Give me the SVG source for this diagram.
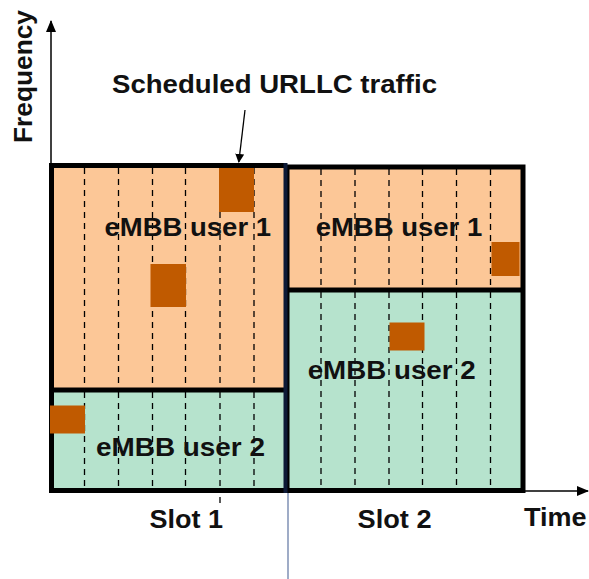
<svg xmlns="http://www.w3.org/2000/svg" width="589" height="579" viewBox="0 0 589 579">
<defs>
<style>
.t{font-family:"Liberation Sans",Arial,sans-serif;font-weight:bold;font-size:26px;fill:#111}
.peach{fill:#FCC797}
.green{fill:#B6E3CD}
.bd{fill:none;stroke:#000;stroke-width:5}
.dash{stroke:#000;stroke-width:1.3;stroke-dasharray:6 5;fill:none}
.sq{fill:#C05A00}
.ax{stroke:#000;stroke-width:1.5;fill:none}
</style>
<marker id="ah" viewBox="0 0 12 10" refX="11" refY="5" markerWidth="12" markerHeight="10" markerUnits="userSpaceOnUse" orient="auto">
<path d="M0,0 L12,5 L0,10 z" fill="#000"/>
</marker>
<marker id="ahs" viewBox="0 0 10 10" refX="9" refY="5" markerWidth="9" markerHeight="9" markerUnits="userSpaceOnUse" orient="auto">
<path d="M0,0 L10,5 L0,10 z" fill="#000"/>
</marker>
</defs>
<rect width="589" height="579" fill="#fff"/>

<g id="connectors">
<line class="ax" x1="51" y1="491" x2="51" y2="21" marker-end="url(#ah)"/>
<line class="ax" x1="51" y1="491" x2="588" y2="491" marker-end="url(#ah)"/>
<line x1="245" y1="110" x2="238.8" y2="162" stroke="#000" stroke-width="1.3" marker-end="url(#ahs)"/>
<line x1="288" y1="165" x2="288" y2="579" stroke="#7F90B4" stroke-width="1.5"/>
<line x1="220" y1="497" x2="220" y2="503" stroke="#000" stroke-width="1.3"/>
</g>

<g id="slot1-user1">
<rect class="peach" x="51.5" y="165.5" width="234" height="224.5"/>
<line class="dash" x1="84.5" y1="168" x2="84.5" y2="388"/>
<line class="dash" x1="118.5" y1="168" x2="118.5" y2="388"/>
<line class="dash" x1="152.5" y1="168" x2="152.5" y2="388"/>
<line class="dash" x1="185.5" y1="168" x2="185.5" y2="388"/>
<line class="dash" x1="220" y1="168" x2="220" y2="388"/>
<line class="dash" x1="254" y1="168" x2="254" y2="388"/>
<text class="t" x="104.5" y="236" textLength="166.5" lengthAdjust="spacingAndGlyphs">eMBB user 1</text>
</g>

<g id="slot1-user2">
<rect class="green" x="51.5" y="390" width="234" height="100.5"/>
<line class="dash" x1="84.5" y1="392" x2="84.5" y2="488"/>
<line class="dash" x1="118.5" y1="392" x2="118.5" y2="488"/>
<line class="dash" x1="152.5" y1="392" x2="152.5" y2="488"/>
<line class="dash" x1="185.5" y1="392" x2="185.5" y2="488"/>
<line class="dash" x1="220" y1="392" x2="220" y2="488"/>
<line class="dash" x1="254" y1="392" x2="254" y2="488"/>
<text class="t" x="96" y="456" textLength="169" lengthAdjust="spacingAndGlyphs">eMBB user 2</text>
</g>

<g id="slot2-user1">
<rect class="peach" x="287" y="167" width="236" height="123"/>
<line class="dash" x1="321" y1="169" x2="321" y2="288"/>
<line class="dash" x1="355" y1="169" x2="355" y2="288"/>
<line class="dash" x1="389" y1="169" x2="389" y2="288"/>
<line class="dash" x1="422.5" y1="169" x2="422.5" y2="288"/>
<line class="dash" x1="456.5" y1="169" x2="456.5" y2="288"/>
<line class="dash" x1="490.5" y1="169" x2="490.5" y2="288"/>
<text class="t" x="315.7" y="236" textLength="166.5" lengthAdjust="spacingAndGlyphs">eMBB user 1</text>
</g>

<g id="slot2-user2">
<rect class="green" x="287" y="290" width="236" height="200"/>
<line class="dash" x1="321" y1="292" x2="321" y2="488"/>
<line class="dash" x1="355" y1="292" x2="355" y2="488"/>
<line class="dash" x1="389" y1="292" x2="389" y2="488"/>
<line class="dash" x1="422.5" y1="292" x2="422.5" y2="488"/>
<line class="dash" x1="456.5" y1="292" x2="456.5" y2="488"/>
<line class="dash" x1="490.5" y1="292" x2="490.5" y2="488"/>
<text class="t" x="307.7" y="379" textLength="168" lengthAdjust="spacingAndGlyphs">eMBB user 2</text>
</g>

<g id="borders">
<path class="bd" d="M51.5,390 V165.5 H285.5 M51.5,390 V490.5 H285.5"/>
<line class="bd" x1="51.5" y1="390" x2="285.5" y2="390"/>
<rect class="bd" x="287" y="167" width="236" height="323.5"/>
<line class="bd" x1="287" y1="290" x2="523" y2="290"/>
<line x1="285.5" y1="163" x2="285.5" y2="493" stroke="#0D1A36" stroke-width="4"/>
</g>

<g id="urllc-blocks">
<rect class="sq" x="219" y="168" width="35" height="44"/>
<rect class="sq" x="150.5" y="264" width="35.5" height="43"/>
<rect class="sq" x="50" y="405.5" width="35" height="28"/>
<rect class="sq" x="491.5" y="242" width="28" height="34"/>
<rect class="sq" x="389.5" y="322.5" width="35" height="28"/>
</g>

<g id="labels">
<text class="t" x="112" y="93" textLength="325" lengthAdjust="spacingAndGlyphs">Scheduled URLLC traffic</text>
<text class="t" transform="translate(32,143) rotate(-90)" x="0" y="0" textLength="133" lengthAdjust="spacingAndGlyphs">Frequency</text>
<text class="t" x="149.5" y="527.5" textLength="73.5" lengthAdjust="spacingAndGlyphs">Slot 1</text>
<text class="t" x="357.5" y="527.5" textLength="74" lengthAdjust="spacingAndGlyphs">Slot 2</text>
<text class="t" x="524" y="526" textLength="62.5" lengthAdjust="spacingAndGlyphs">Time</text>
</g>
</svg>
